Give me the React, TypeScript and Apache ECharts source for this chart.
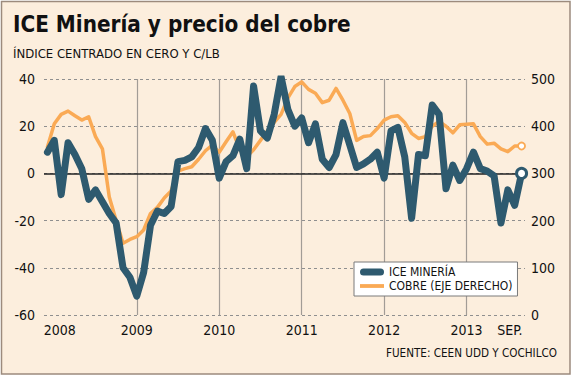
import React, { useEffect, useRef } from "react";
import * as echarts from "echarts";

// Month index: 0 = Jan 2008, data runs from Dec 2007 (-1) to Sep 2013 (68)
const months: number[] = Array.from({ length: 70 }, (_, i) => i - 1);

const iceMineria: number[] = [
  9, 14, -9, 13, 8, 2, -11, -7, -12, -17, -21, -40, -44,
  -52, -42, -22, -16, -17, -14, 5, 5.5, 7, 11, 19, 14,
  -2, 5, 7.5, 14.5, 2, 37, 18, 15, 25, 41, 27, 20,
  23.5, 13, 21, 6, 2.5, 8, 21.5, 12, 2.5, 4, 6, 9,
  -2, 18, 19.5, 7, -19, 8, 7.5, 29, 25, -6.5, 3.5, -3,
  2, 9, 2, 1, -1, -21, -7, -13.5, 0,
];

const cobre: number[] = [
  356, 405, 425, 432, 422, 413, 420, 378, 352, 250, 200, 152, 160,
  166, 180, 215, 228, 248, 263, 305, 310, 314, 330, 348, 360,
  345, 367, 388, 350, 335, 350, 370, 390, 408, 425, 460, 484,
  494, 478, 470, 450, 455, 480, 455, 427, 370, 378, 380, 395,
  413, 420, 422, 408, 385, 374, 378, 400, 410, 400, 386, 403,
  404, 405, 378, 362, 364, 352, 346, 358, 358,
];

const xTickMonths: number[] = [0.8, 12, 24, 36, 48, 60, 66.3];
const xTickLabels: string[] = ["2008", "2009", "2010", "2011", "2012", "2013", "SEP."];
const yearLineMonths: number[] = [12, 24, 36, 48, 60];

const TITLE = "ICE Minería y precio del cobre";
const SUBTITLE = "ÍNDICE CENTRADO EN CERO Y C/LB";
const SOURCE = "FUENTE: CEEN UDD Y COCHILCO";
const NAME_ICE = "ICE MINERÍA";
const NAME_COBRE = "COBRE (EJE DERECHO)";

const FONT = '"DejaVu Sans Condensed", "Liberation Sans", sans-serif';
const ICE_COLOR = "#2E5A6F";
const COBRE_COLOR = "#FAAA55";
const BG = "#FCEEDD";

function buildSeriesData(values: number[], endStyle: any) {
  const last = values.length - 1;
  return values.map((v, i) =>
    i === last ? { value: [months[i], v], ...endStyle } : [months[i], v]
  );
}

export default function App() {
  const ref = useRef<HTMLDivElement>(null);

  useEffect(() => {
    document.body.style.margin = "0";
    if (!ref.current) return;
    const chart = echarts.init(ref.current, null, { renderer: "svg" });

    const option: any = {
      animation: false,
      backgroundColor: "#ffffff",
      textStyle: { fontFamily: FONT },
      grid: { left: 44, right: 47, top: 79, bottom: 62, containLabel: false },
      graphic: [
        {
          type: "rect",
          z: -100,
          silent: true,
          shape: { x: 1.5, y: 1.5, width: 568.5, height: 372.5 },
          style: { fill: BG, stroke: "#9C8B7D", lineWidth: 1.5 },
        },
        {
          type: "text",
          left: 13,
          top: 13,
          style: {
            text: TITLE,
            fontFamily: FONT,
            fontWeight: "bold",
            fontSize: 22.3,
            fill: "#111",
          },
        },
        {
          type: "text",
          left: 13,
          top: 47,
          style: {
            text: SUBTITLE,
            fontFamily: FONT,
            fontSize: 13,
            fill: "#111",
          },
        },
        {
          type: "text",
          right: 15,
          top: 347,
          style: {
            text: SOURCE,
            fontFamily: FONT,
            fontSize: 11.6,
            fill: "#111",
          },
        },
      ],
      legend: {
        orient: "vertical",
        left: 354,
        top: 262,
        backgroundColor: "#ffffff",
        borderColor: "#7a7a7a",
        borderWidth: 1,
        borderRadius: 0,
        padding: [4, 5, 4, 6],
        itemGap: 2,
        itemWidth: 24,
        itemHeight: 7,
        textStyle: { fontFamily: FONT, fontSize: 12, color: "#111" },
        data: [
          {
            name: NAME_ICE,
            icon: "path://M3.5,0 H20.5 A3.5,3.5 0 0 1 20.5,7 H3.5 A3.5,3.5 0 0 1 3.5,0 Z",
            itemStyle: { color: ICE_COLOR, borderWidth: 0 },
          },
          {
            name: NAME_COBRE,
            icon: "path://M0,0 M0,1.6 H24 V5.4 H0 Z M24,7",
            itemStyle: { color: COBRE_COLOR, borderWidth: 0 },
          },
        ],
      },
      xAxis: {
        type: "value",
        min: -1.5,
        max: 68.5,
        axisLine: { show: false },
        axisTick: { show: false },
        splitLine: { show: false },
        axisLabel: {
          customValues: xTickMonths,
          margin: 8,
          fontSize: 14,
          color: "#111",
          fontFamily: FONT,
          formatter: (v: number) => {
            const i = xTickMonths.findIndex((m) => Math.abs(m - v) < 0.01);
            return i >= 0 ? xTickLabels[i] : "";
          },
        },
      },
      yAxis: [
        {
          type: "value",
          min: -60,
          max: 40,
          interval: 20,
          axisLine: { show: false },
          axisTick: { show: false },
          axisLabel: { margin: 9, fontSize: 14, color: "#111", fontFamily: FONT },
          splitLine: {
            show: true,
            lineStyle: { color: "#8f8f8f", type: [3, 3], width: 1 },
          },
        },
        {
          type: "value",
          min: 0,
          max: 500,
          interval: 100,
          position: "right",
          axisLine: { show: false },
          axisTick: { show: false },
          axisLabel: { margin: 6, fontSize: 14, color: "#111", fontFamily: FONT },
          splitLine: { show: false },
        },
      ],
      series: [
        {
          name: NAME_COBRE,
          type: "line",
          yAxisIndex: 1,
          z: 2,
          symbol: "none",
          showSymbol: true,
          smooth: false,
          lineStyle: { color: COBRE_COLOR, width: 3.5, join: "round", cap: "round" },
          itemStyle: { color: COBRE_COLOR },
          data: buildSeriesData(cobre, {
            symbol: "circle",
            symbolSize: 7,
            itemStyle: { color: "#ffffff", borderColor: COBRE_COLOR, borderWidth: 1.8 },
          }),
          markLine: {
            silent: true,
            z: 1,
            symbol: ["none", "none"],
            label: { show: false },
            emphasis: { disabled: true },
            data: [
              ...yearLineMonths.map((m) => ({
                xAxis: m,
                lineStyle: { color: "#a29c96", width: 1.2, type: "solid" },
              })),
            ],
          },
        },
        {
          name: NAME_ICE,
          type: "line",
          yAxisIndex: 0,
          z: 3,
          symbol: "none",
          showSymbol: true,
          smooth: false,
          lineStyle: { color: ICE_COLOR, width: 7, join: "round", cap: "round" },
          itemStyle: { color: ICE_COLOR },
          data: buildSeriesData(iceMineria, {
            symbol: "circle",
            symbolSize: 10,
            itemStyle: { color: "#ffffff", borderColor: ICE_COLOR, borderWidth: 3 },
          }),
          markLine: {
            silent: true,
            z: 1,
            symbol: ["none", "none"],
            label: { show: false },
            emphasis: { disabled: true },
            data: [{ yAxis: 0, lineStyle: { color: "#222", width: 1.5, type: "solid" } }],
          },
        },
      ],
    };

    chart.setOption(option);
    return () => chart.dispose();
  }, []);

  return <div ref={ref} style={{ width: 572, height: 377 }} />;
}
